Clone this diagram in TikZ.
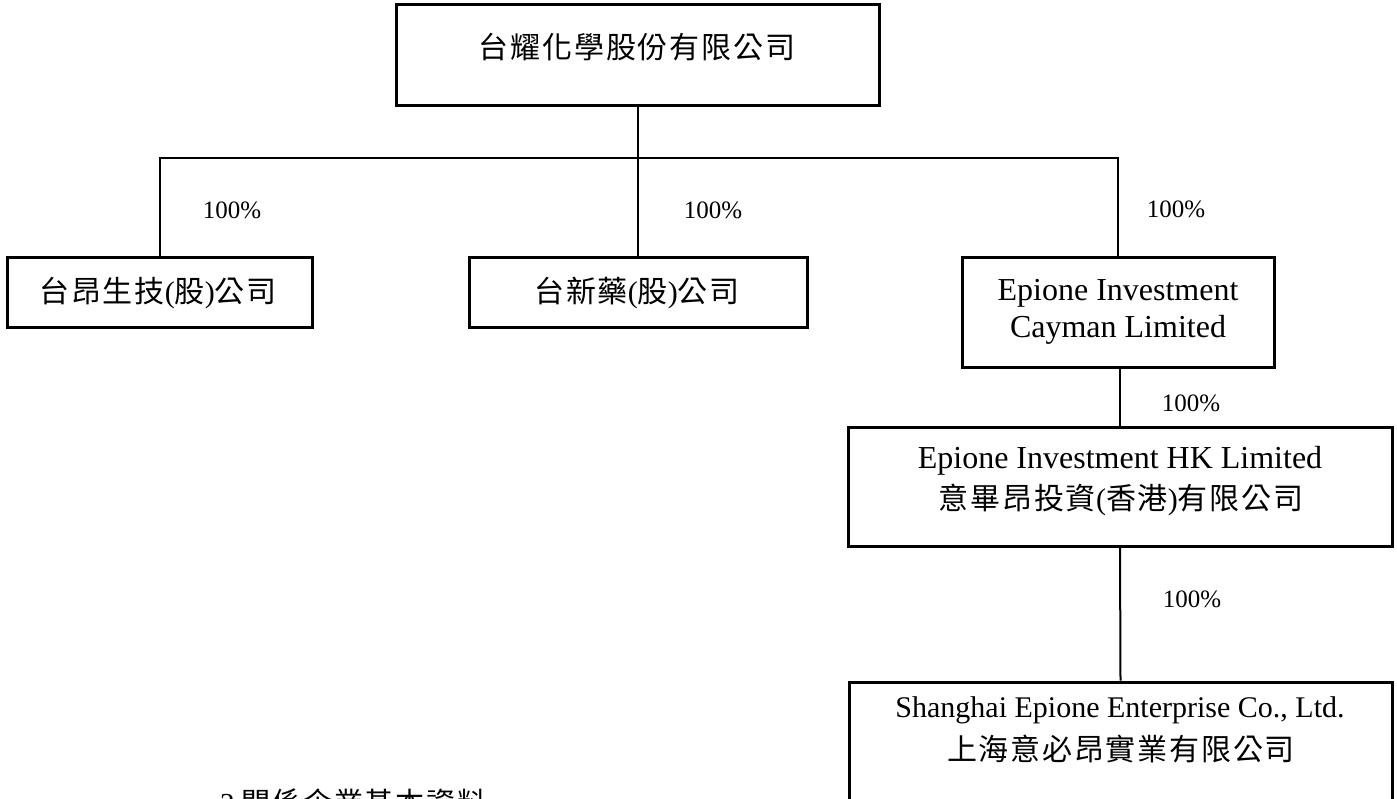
\documentclass[tikz,border=0pt]{standalone}
\usepackage{fontspec}
\setmainfont{Liberation Serif}
\newfontfamily\cjkfont[LetterSpace=6]{Noto Sans CJK TC}
\newcommand\zh[1]{{\cjkfont #1}}
\tikzset{
  orgbox/.style={draw, line width=3pt, rectangle, inner sep=0pt},
  conn/.style={line width=2pt},
  pct/.style={font=\fontsize{25pt}{30pt}\selectfont, anchor=base, inner sep=0pt},
  lat/.style={font=\fontsize{32pt}{38pt}\selectfont, anchor=base, inner sep=0pt},
  latsm/.style={font=\fontsize{30pt}{36pt}\selectfont, anchor=base, inner sep=0pt},
  zht/.style={font=\fontsize{30pt}{36pt}\selectfont, anchor=center, inner sep=0pt},
}
\begin{document}
\begin{tikzpicture}[x=1pt,y=-1pt]
\useasboundingbox (0,0) rectangle (1397,798);
\fill[white] (0,0) rectangle (1397,798);
% boxes
\node[orgbox, minimum width=483pt, minimum height=101pt] (top) at (637.5,54.5) {};
\node[orgbox, minimum width=305pt, minimum height=70pt] (a) at (159.5,292) {};
\node[orgbox, minimum width=338pt, minimum height=70pt] (b) at (638,292) {};
\node[orgbox, minimum width=312pt, minimum height=110pt] (c) at (1118,312) {};
\node[orgbox, minimum width=544pt, minimum height=119pt] (d) at (1120,486.5) {};
\node[orgbox, minimum width=543pt, minimum height=158pt] (e) at (1120.5,761) {};
% texts
\node[zht] (ttop) at (637,47) {\zh{台耀化學股份有限公司}};
\node[zht] (ta) at (158,293) {\zh{台昂生技}(\zh{股})\zh{公司}};
\node[zht] (tb) at (637,293) {\zh{台新藥}(\zh{股})\zh{公司}};
\node[lat] (tc1) at (1118,300) {Epione Investment};
\node[lat] (tc2) at (1118,337) {Cayman Limited};
\node[lat] (td1) at (1120,468) {Epione Investment HK Limited};
\node[zht] (td2) at (1121,500) {\zh{意畢昂投資}(\zh{香港})\zh{有限公司}};
\node[latsm] (te1) at (1120,717) {Shanghai Epione Enterprise Co., Ltd.};
\node[zht] (te2) at (1121,749) {\zh{上海意必昂實業有限公司}};
\node[font=\fontsize{29pt}{34pt}\selectfont, anchor=base west, inner sep=0pt] (sec) at (220,813) {2 \zh{關係企業基本資料}};
% connectors
\coordinate (bar) at (637.5,158);
\draw[conn] (top.south) -- (top.south |- b.north);
\draw[conn] (a.north) -- (a.north |- bar) -- (c.north |- bar) -- (c.north);
\draw[conn] (c.south -| d.north) -- (d.north);
\draw[conn] (d.south) -- (e.north);
% percentages
\node[pct] (p1) at (232,218) {100\%};
\node[pct] (p2) at (713,218) {100\%};
\node[pct] (p3) at (1176,217) {100\%};
\node[pct] (p4) at (1191,411) {100\%};
\node[pct] (p5) at (1192,607) {100\%};
\end{tikzpicture}
\end{document}
